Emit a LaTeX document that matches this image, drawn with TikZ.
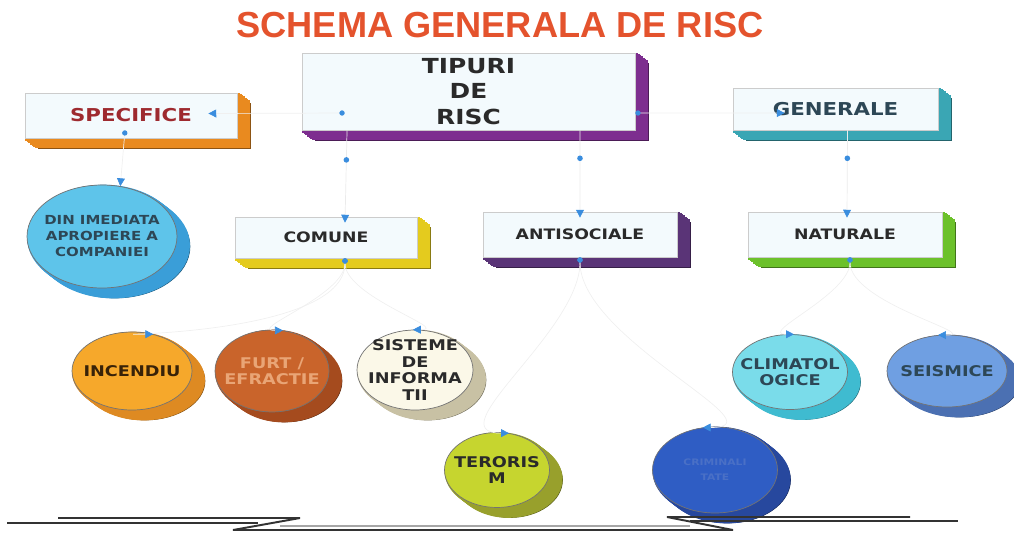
\documentclass[tikz,border=0pt]{standalone}
\usepackage{fontspec}
\usetikzlibrary{positioning,shapes.geometric,shadows,arrows.meta,decorations.markings}
\newfontfamily\riskfont[FakeStretch=1.2]{DejaVu Sans}
\newfontfamily\titlefont{Liberation Sans}
\definecolor{titleorange}{HTML}{E4532D}
\definecolor{boxface}{HTML}{F3FAFD}
\definecolor{textdark}{HTML}{2A2A2A}
\definecolor{specred}{HTML}{9E2A2F}
\definecolor{genslate}{HTML}{2D4756}
\definecolor{tipblue}{HTML}{3A8DDE}
\definecolor{tipviolet}{HTML}{7D2E8F}
\definecolor{specorange}{HTML}{E98A1F}
\definecolor{genteal}{HTML}{3AA6B4}
\definecolor{comyellow}{HTML}{E4CB1E}
\definecolor{antiviolet}{HTML}{5A3477}
\definecolor{natgreen}{HTML}{6CC12B}
\definecolor{dinblue}{HTML}{5EC4EA}
\definecolor{dinshade}{HTML}{3A9ED8}
\definecolor{incorange}{HTML}{F6A82B}
\definecolor{incshade}{HTML}{DE8A22}
\definecolor{furtbrown}{HTML}{C9642B}
\definecolor{furtshade}{HTML}{A54B1E}
\definecolor{furttext}{HTML}{E9A576}
\definecolor{siscream}{HTML}{FBF8E8}
\definecolor{sisshade}{HTML}{C8C1A4}
\definecolor{terlime}{HTML}{C6D52F}
\definecolor{tershade}{HTML}{98A02C}
\definecolor{crimblue}{HTML}{2F5DC4}
\definecolor{crimshade}{HTML}{27489E}
\definecolor{crimtext}{HTML}{4A70C6}
\definecolor{climcyan}{HTML}{7ADCEA}
\definecolor{climshade}{HTML}{3FBBD0}
\definecolor{seisblue}{HTML}{6F9FE2}
\definecolor{seisshade}{HTML}{4B70B2}

\begin{document}
\begin{tikzpicture}[x=0.02cm, y=-0.02cm,
		every node/.append style={align=center, inner sep=0pt},
		layer/.style 2 args={copy shadow={shadow xshift=#1*.26cm, shadow yshift=-#1*.2cm, fill=#2, draw=#2, line width=1.8pt}},
		solid/.style={copy shadow={shadow xshift=.26cm, shadow yshift=-.2cm, fill=#1, draw=#1!60!black},
			layer={.875}{#1}, layer={.75}{#1}, layer={.625}{#1}, layer={.5}{#1},
			layer={.375}{#1}, layer={.25}{#1}, layer={.125}{#1}},
		riskbox/.style={rectangle, draw=black!20, fill=boxface, text=textdark, font=\riskfont\bfseries\fontsize{8.2}{9.2}\selectfont, solid=#1},
		riskoval/.style 2 args={ellipse, draw=black!55, fill=#1, solid=#2},
		ovaltext/.style={font=\riskfont\bfseries\fontsize{8.4}{9.4}\selectfont, text=textdark},
		link/.style={draw=black!6, thin, {Circle[length=3pt,color=tipblue]}-{Triangle[length=4.5pt,width=4.5pt,color=tipblue]}},
		linkdown/.style={draw=black!8, thin, -{Triangle[length=4.5pt,width=4.5pt,color=tipblue]},
			postaction={decorate, decoration={markings, mark=at position #1 with {\fill[tipblue] (0,0) circle (1.6pt);}}}},
		rule/.style={draw=black!80, line width=1.1pt},
		fineline/.style={draw=black!35, line width=.7pt}]
	\useasboundingbox (0, 0) rectangle (1014, 532);
	\node (title) at (500, 25) [font=\titlefont\bfseries\fontsize{20.6}{24}\selectfont, text=titleorange] {SCHEMA GENERALA DE RISC};

	\node (TIP)  at (468.5, 91.5) [riskbox=tipviolet, minimum width=6.66cm, minimum height=1.54cm, font=\riskfont\bfseries\fontsize{11.8}{14.7}\selectfont] {TIPURI\\DE\\RISC};
	\node (SPEC) at (131, 115.5) [riskbox=specorange, minimum width=4.24cm, minimum height=.9cm, font=\riskfont\bfseries\fontsize{10.1}{12}\selectfont, text=specred] {SPECIFICE};
	\node (GEN)  at (835.5, 109) [riskbox=genteal, minimum width=4.1cm, minimum height=.84cm, font=\riskfont\bfseries\fontsize{10.1}{12}\selectfont, text=genslate] {GENERALE};
	\node (COM)  at (326, 237.5) [riskbox=comyellow, minimum width=3.64cm, minimum height=.82cm] {COMUNE};
	\node (ANTI) at (580, 234.5) [riskbox=antiviolet, minimum width=3.88cm, minimum height=.9cm] {ANTISOCIALE};
	\node (NAT)  at (845, 234.5) [riskbox=natgreen, minimum width=3.88cm, minimum height=.9cm] {NATURALE};

	\node (DIN)  at (102, 236.5) [riskoval={dinblue}{dinshade}, minimum width=3cm, minimum height=2.06cm,
		label={[ovaltext, font=\riskfont\bfseries\fontsize{7.1}{9.1}\selectfont, text=genslate]center:{DIN IMEDIATA\\APROPIERE A\\COMPANIEI}}] {};
	\node (INC)  at (132, 371) [riskoval={incorange}{incshade}, minimum width=2.4cm, minimum height=1.56cm,
		label={[ovaltext, text=black!75!incshade]center:{INCENDIU}}] {};
	\node (FURT) at (272, 371) [riskoval={furtbrown}{furtshade}, minimum width=2.28cm, minimum height=1.64cm,
		label={[ovaltext, text=furttext]center:{FURT /\\EFRACTIE}}] {};
	\node (SIS)  at (415, 370) [riskoval={siscream}{sisshade}, minimum width=2.32cm, minimum height=1.6cm,
		label={[ovaltext]center:{SISTEME\\DE\\INFORMA\\TII}}] {};
	\node (TER)  at (497, 470) [riskoval={terlime}{tershade}, minimum width=2.1cm, minimum height=1.5cm,
		label={[ovaltext]center:{TERORIS\\M}}] {};
	\node (CRIM) at (715, 470) [riskoval={crimblue}{crimshade}, minimum width=2.5cm, minimum height=1.72cm,
		label={[ovaltext, font=\riskfont\bfseries\fontsize{5.1}{8.5}\selectfont, text=crimtext]center:{CRIMINALI\\TATE}}] {};
	\node (CLIM) at (790, 372) [riskoval={climcyan}{climshade}, minimum width=2.3cm, minimum height=1.5cm,
		label={[ovaltext, text=genslate]center:{CLIMATOL\\OGICE}}] {};
	\node (SEIS) at (947, 371) [riskoval={seisblue}{seisshade}, minimum width=2.4cm, minimum height=1.44cm,
		label={[ovaltext, text=genslate]center:{SEISMICE}}] {};

	\draw [link] ([xshift=.86cm, yshift=-.43cm]TIP.west) -- ([xshift=-.58cm, yshift=.04cm]SPEC.east);
	\draw [link] ([yshift=-.43cm]TIP.east) -- ([xshift=1.04cm, yshift=-.08cm]GEN.west);
	\draw [link] ([xshift=-.12cm, yshift=.16cm]SPEC.south) -- (DIN.70);
	\draw [linkdown=.32] ([xshift=-2.43cm]TIP.south) -- ([xshift=.38cm, yshift=-.12cm]COM.north);
	\draw [linkdown=.32] ([xshift=2.23cm]TIP.south) -- ([yshift=-.12cm]ANTI.north);
	\draw [linkdown=.32] ([xshift=.24cm]GEN.south) -- ([xshift=.04cm, yshift=-.12cm]NAT.north);

	\draw [link] ([xshift=.38cm]COM.south) to[out=-90, in=180] (INC.60);
	\draw [link] ([xshift=.38cm]COM.south) to[out=-90, in=180] (FURT.75);
	\draw [link] ([xshift=.38cm]COM.south) to[out=-90, in=0] (SIS.93);
	\draw [link] (ANTI.south) to[out=-90, in=180] (TER.72);
	\draw [link] (ANTI.south) to[out=-90, in=0] (CRIM.106);
	\draw [link] ([xshift=.1cm]NAT.south) to[out=-90, in=180] (CLIM.84);
	\draw [link] ([xshift=.1cm]NAT.south) to[out=-90, in=0] (SEIS.104);

	\draw [rule] (7, 523) -- (258, 523);
	\draw [rule] (58, 518) -- (300, 518) -- (233, 530) -- (733, 530) -- (667, 517) -- (910, 517);
	\draw [fineline] (280, 526) -- (690, 526);
	\draw [rule] (690, 521) -- (958, 521);
\end{tikzpicture}
\end{document}
